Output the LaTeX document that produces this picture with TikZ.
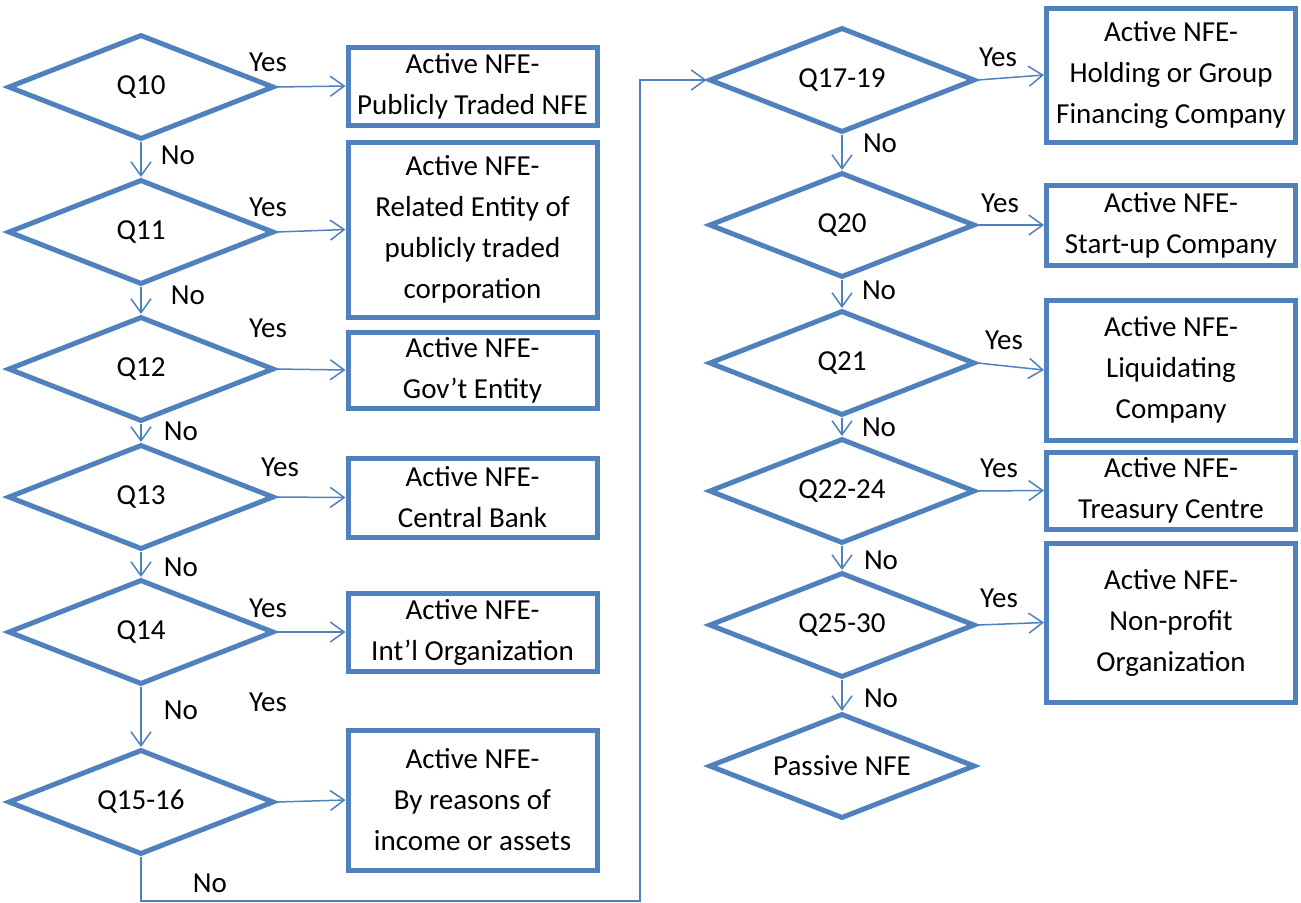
\documentclass[tikz,border=0pt]{standalone}
\usepackage{fontspec}
\setmainfont{Carlito}
\usepackage{tikz}
\usepackage{xcolor}
\usetikzlibrary{shapes.geometric,arrows.meta}
\definecolor{flowblue}{RGB}{79,129,189}

\begin{document}
\begin{tikzpicture}[x=0.5pt, y=-0.5pt,
        every node/.style={font=\fontsize{14.5}{20.5}\selectfont},
        question/.style={diamond, aspect=2.5, draw=flowblue, line width=2.5pt,
                minimum width=133pt, minimum height=52.5pt, inner sep=0pt},
        answer/.style={rectangle, draw=flowblue, line width=2.5pt,
                align=center, minimum width=124.5pt, inner sep=0pt},
        link/.style={draw=flowblue, line width=0.75pt,
                -{Straight Barb[length=7pt,width=10pt]}}]
        \useasboundingbox (0,0) rectangle (1301,902);

        % left column
        \node[question] (q10) at (141,87) {Q10};
        \node[question] (q11) at (141,232) {Q11};
        \node[question] (q12) at (141,369) {Q12};
        \node[question] (q13) at (141,497) {Q13};
        \node[question] (q14) at (141,632) {Q14};
        \node[question] (q15) at (141,802) {Q15-16};

        \node[answer, minimum height=39pt] (r10) at (472.5,86) {Active NFE-\\Publicly Traded NFE};
        \node[answer, minimum height=87.5pt] (r11) at (472.5,229.5) {Active NFE-\\Related Entity of\\publicly traded\\corporation};
        \node[answer, minimum height=38pt] (r12) at (472.5,370) {Active NFE-\\Gov’t Entity};
        \node[answer, minimum height=39.5pt] (r13) at (472.5,497.5) {Active NFE-\\Central Bank};
        \node[answer, minimum height=39pt] (r14) at (472.5,632) {Active NFE-\\Int’l Organization};
        \node[answer, minimum height=70pt] (r15) at (472.5,800) {Active NFE-\\By reasons of\\income or assets};

        % right column
        \node[question] (q17) at (842,80) {Q17-19};
        \node[question] (q20) at (842,225) {Q20};
        \node[question] (q21) at (842,363) {Q21};
        \node[question] (q22) at (842,491) {Q22-24};
        \node[question] (q25) at (842,625) {Q25-30};
        \node[question] (qp) at (842,766) {Passive NFE};

        \node[answer, minimum height=67pt] (r17) at (1171,75) {Active NFE-\\Holding or Group\\Financing Company};
        \node[answer, minimum height=40pt] (r20) at (1171,225) {Active NFE-\\Start-up Company};
        \node[answer, minimum height=70pt] (r21) at (1171,370) {Active NFE-\\Liquidating\\Company};
        \node[answer, minimum height=38.5pt] (r22) at (1171,490.5) {Active NFE-\\Treasury Centre};
        \node[answer, minimum height=79.5pt] (r25) at (1171,622.5) {Active NFE-\\Non-profit\\Organization};

        % yes / no labels
        \node (yes10) at (268,62) {Yes};
        \node (yes11) at (268,207) {Yes};
        \node (yes12) at (268,328) {Yes};
        \node (yes13) at (280,467) {Yes};
        \node (yes14) at (268,608) {Yes};
        \node (yes15) at (268,702) {Yes};
        \node (yes17) at (998,57) {Yes};
        \node (yes20) at (1000,203) {Yes};
        \node (yes21) at (1004,340) {Yes};
        \node (yes22) at (999,468) {Yes};
        \node (yes25) at (999,598) {Yes};

        \node (no10) at (178,155) {No};
        \node (no11) at (188,295) {No};
        \node (no12) at (181,431) {No};
        \node (no13) at (181,567) {No};
        \node (no14) at (181,710) {No};
        \node (no15) at (210,883) {No};
        \node (no17) at (880,143) {No};
        \node (no20) at (879,290) {No};
        \node (no21) at (879,427) {No};
        \node (no22) at (881,560) {No};
        \node (no25) at (881,698) {No};

        \coordinate (turn) at (640,901);

        % yes arrows
        \draw[link] (q10.east) -- (r10.west);
        \draw[link] (q11.east) -- (r11.west);
        \draw[link] (q12.east) -- (r12.west);
        \draw[link] (q13.east) -- (r13.west);
        \draw[link] (q14.east) -- (r14.west);
        \draw[link] (q15.east) -- (r15.west);
        \draw[link] (q17.east) -- (r17.west);
        \draw[link] (q20.east) -- (r20.west);
        \draw[link] (q21.east) -- (r21.west);
        \draw[link] (q22.east) -- (r22.west);
        \draw[link] (q25.east) -- (r25.west);

        % no arrows
        \draw[link] (q10.south) -- (q11.north);
        \draw[link] (q11.south) -- (q12.north);
        \draw[link] (q12.south) -- (q13.north);
        \draw[link] (q13.south) -- (q14.north);
        \draw[link] (q14.south) -- (q15.north);
        \draw[link] (q15.south) |- (turn) |- (q17.west);
        \draw[link] (q17.south) -- (q20.north);
        \draw[link] (q20.south) -- (q21.north);
        \draw[link] (q21.south) -- (q22.north);
        \draw[link] (q22.south) -- (q25.north);
        \draw[link] (q25.south) -- (qp.north);
\end{tikzpicture}
\end{document}
